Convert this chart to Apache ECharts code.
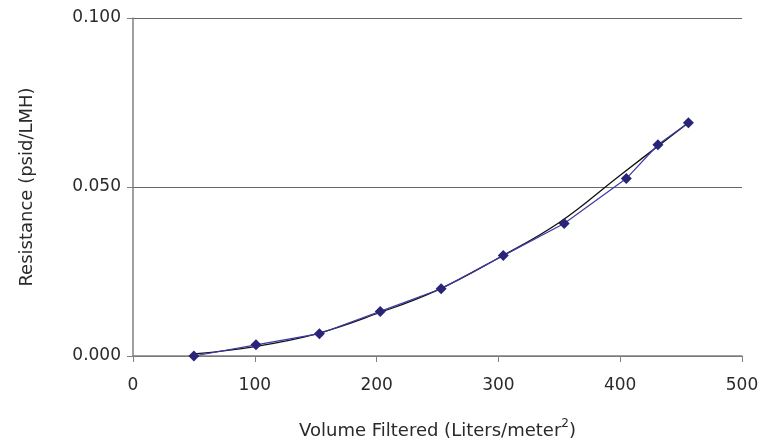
<!DOCTYPE html>
<html><head><meta charset="utf-8">
<script src="https://cdn.jsdelivr.net/npm/echarts@6/dist/echarts.min.js"></script>
<style>html,body{margin:0;padding:0;background:#fff}#c{width:773px;height:445px}</style>
</head><body><div id="c"></div>
<script>
const volume = [50, 101, 153, 203, 253, 304, 354, 405, 431, 456];
const resistance = [0.0000, 0.0033, 0.0066, 0.0132, 0.0199, 0.0297, 0.0392, 0.0525, 0.0625, 0.0690];
const trendX = [50, 100, 150, 200, 250, 300, 350, 400, 456];
const trendY = [0.0006, 0.0028, 0.0065, 0.0125, 0.0195, 0.0290, 0.0395, 0.0535, 0.0690];
const xTicks = [0, 100, 200, 300, 400, 500];
const yTicks = [0, 0.05, 0.1];

const font = '"DejaVu Sans", sans-serif';
const txt = '#2a2a2a';
const chart = echarts.init(document.getElementById('c'), null, {renderer:'canvas'});
chart.setOption({
  animation: false,
  grid: {left: 133, right: 31, top: 18, bottom: 88},
  xAxis: {
    type: 'value', min: xTicks[0], max: xTicks[xTicks.length-1], interval: 100,
    axisLine: {show: true, lineStyle: {color: '#808080', width: 1.5}},
    axisTick: {show: true, length: 6, lineStyle: {color: '#808080'}},
    splitLine: {show: false},
    axisLabel: {color: txt, fontSize: 17, fontFamily: font, margin: 21},
    name: 'Volume Filtered (Liters/meter{sup|2})',
    nameLocation: 'middle', nameGap: 62,
    nameTextStyle: {color: txt, fontSize: 18, fontFamily: font,
      rich: {sup: {fontSize: 12, fontFamily: font, color: txt, padding: [0,0,14,0]}}}
  },
  yAxis: {
    type: 'value', min: yTicks[0], max: yTicks[yTicks.length-1], interval: 0.05,
    axisLine: {show: true, lineStyle: {color: '#808080', width: 1.5}},
    axisTick: {show: true, length: 6, lineStyle: {color: '#808080'}},
    splitLine: {show: true, lineStyle: {color: '#686868', width: 1.2}},
    axisLabel: {color: txt, fontSize: 17, fontFamily: font, margin: 12,
      formatter: v => v.toFixed(3)},
    name: 'Resistance (psid/LMH)', nameLocation: 'middle', nameGap: 97,
    nameTextStyle: {color: txt, fontSize: 18, fontFamily: font}
  },
  series: [
    {
      type: 'line', data: trendX.map((x,i)=>[x, trendY[i]]), smooth: 0.4,
      showSymbol: false, lineStyle: {color: '#111', width: 1.3}, z: 2
    },
    {
      type: 'line', data: volume.map((x,i)=>[x, resistance[i]]),
      symbol: 'diamond', symbolSize: 11,
      itemStyle: {color: '#2a2478'},
      lineStyle: {color: '#3d3aa8', width: 1.2}, z: 3
    }
  ]
});
</script></body></html>
